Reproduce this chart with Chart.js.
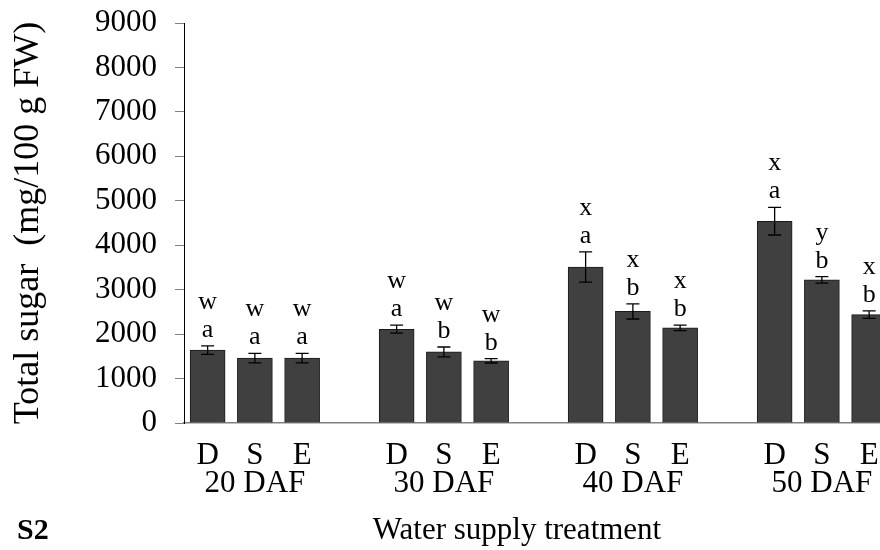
<!DOCTYPE html>
<html><head><meta charset="utf-8">
<script src="https://cdn.jsdelivr.net/npm/chart.js@4.4.1/dist/chart.umd.min.js"></script>
<style>html,body{margin:0;padding:0;background:#fff;overflow:hidden}#wrap{width:880px;height:550px;position:relative}</style>
</head><body><div id="wrap"><canvas id="c" width="880" height="550"></canvas></div>
<script>
// ---- data ----
const groups = ['20 DAF', '30 DAF', '40 DAF', '50 DAF'];
const treatments = ['D', 'S', 'E'];
const valuesD = [1640, 2110, 3510, 4540];
const valuesS = [1460, 1600, 2510, 3220];
const valuesE = [1460, 1400, 2140, 2440];
const errorsD = [95, 90, 340, 310];
const errorsS = [105, 110, 170, 75];
const errorsE = [105, 50, 60, 85];
const upperD = ['w', 'w', 'x', 'x'];
const upperS = ['w', 'w', 'x', 'y'];
const upperE = ['w', 'w', 'x', 'x'];
const lowerD = ['a', 'a', 'a', 'a'];
const lowerS = ['a', 'b', 'b', 'b'];
const lowerE = ['a', 'b', 'b', 'b'];
const yTickValues = [0, 1000, 2000, 3000, 4000, 5000, 6000, 7000, 8000, 9000];
const yTitle = 'Total sugar  (mg/100 g FW)';
const xTitle = 'Water supply treatment';
const panelLabel = 'S2';

const seriesValues = [valuesD, valuesS, valuesE];
const seriesErrors = [errorsD, errorsS, errorsE];
const seriesUpper = [upperD, upperS, upperE];
const seriesLower = [lowerD, lowerS, lowerE];
const SLOTS = treatments.length + 1; // one empty slot between groups

const FONT = "'Liberation Serif', 'Times New Roman', serif";

const datasets = treatments.map((t, ti) => ({
  label: t,
  data: groups.map((g, gi) => ({ x: gi * SLOTS + ti, y: seriesValues[ti][gi] })),
  backgroundColor: '#404040',
  borderColor: '#1a1a1a',
  borderWidth: 1,
  barThickness: 35,
  grouped: false
}));

const annot = {
  id: 'annot',
  afterDatasetsDraw(chart) {
    const ctx = chart.ctx;
    const xs = chart.scales.x, ys = chart.scales.y;
    ctx.save();
    treatments.forEach((t, ti) => {
      groups.forEach((g, gi) => {
        const px = xs.getPixelForValue(gi * SLOTS + ti);
        const v = seriesValues[ti][gi], e = seriesErrors[ti][gi];
        const yTop = ys.getPixelForValue(v + e);
        const yBot = ys.getPixelForValue(v - e);
        ctx.strokeStyle = '#000';
        ctx.lineWidth = 1.3;
        ctx.beginPath();
        ctx.moveTo(px, yTop); ctx.lineTo(px, yBot);
        ctx.moveTo(px - 6.5, yTop); ctx.lineTo(px + 6.5, yTop);
        ctx.moveTo(px - 6.5, yBot); ctx.lineTo(px + 6.5, yBot);
        ctx.stroke();
        ctx.fillStyle = '#000';
        ctx.font = '26px ' + FONT;
        ctx.textAlign = 'center';
        ctx.textBaseline = 'alphabetic';
        const base = yTop - 9;
        ctx.fillText(seriesLower[ti][gi], px, base);
        ctx.fillText(seriesUpper[ti][gi], px, base - 28);
      });
    });
    ctx.fillStyle = '#000';
    ctx.textAlign = 'center';
    ctx.textBaseline = 'middle';
    ctx.font = '31px ' + FONT;
    ctx.fillText(xTitle, 517, 531);
    ctx.textAlign = 'left';
    ctx.font = 'bold 30px ' + FONT;
    ctx.fillText(panelLabel, 17, 531);
    ctx.restore();
  }
};

new Chart(document.getElementById('c'), {
  type: 'bar',
  data: { datasets },
  options: {
    responsive: false,
    animation: false,
    devicePixelRatio: 1,
    layout: { padding: { top: 23, left: 0, right: 0, bottom: 0 } },
    plugins: { legend: { display: false }, tooltip: { enabled: false } },
    scales: {
      x: {
        type: 'linear',
        offset: false,
        min: -0.5,
        max: 14.23,
        grid: { display: true, drawOnChartArea: false, drawTicks: false },
        border: { display: true, color: '#808080', width: 1.5 },
        ticks: {
          color: '#000',
          font: { family: FONT, size: 31, lineHeight: 0.9 },
          padding: 19,
          maxRotation: 0,
          autoSkip: false,
          callback: (v) => {
            const gi = Math.floor(v / SLOTS), ti = v % SLOTS;
            if (ti === 1) return [treatments[ti], groups[gi]];
            return treatments[ti];
          }
        },
        afterBuildTicks: (scale) => {
          const ticks = [];
          groups.forEach((g, gi) => treatments.forEach((t, ti) => ticks.push({ value: gi * SLOTS + ti })));
          scale.ticks = ticks;
        },
        afterFit: (scale) => { scale.height = 127; scale.paddingLeft = 0; scale.paddingRight = 0; }
      },
      y: {
        min: 0,
        max: 9000,
        grid: { display: true, drawOnChartArea: false, drawTicks: true, tickLength: 9, color: '#808080' },
        border: { display: true, color: '#000', width: 1 },
        ticks: {
          color: '#000',
          font: { family: FONT, size: 31 },
          padding: 18,
          callback: (v) => String(v)
        },
        afterBuildTicks: (scale) => { scale.ticks = yTickValues.map(v => ({ value: v })); },
        title: {
          display: true,
          text: yTitle,
          color: '#000',
          font: { family: FONT, size: 36 },
          padding: { top: 7, bottom: 0 }
        },
        afterFit: (scale) => { scale.width = 184; scale.paddingTop = 0; scale.paddingBottom = 0; }
      }
    }
  },
  plugins: [annot]
});
</script>
</body></html>
